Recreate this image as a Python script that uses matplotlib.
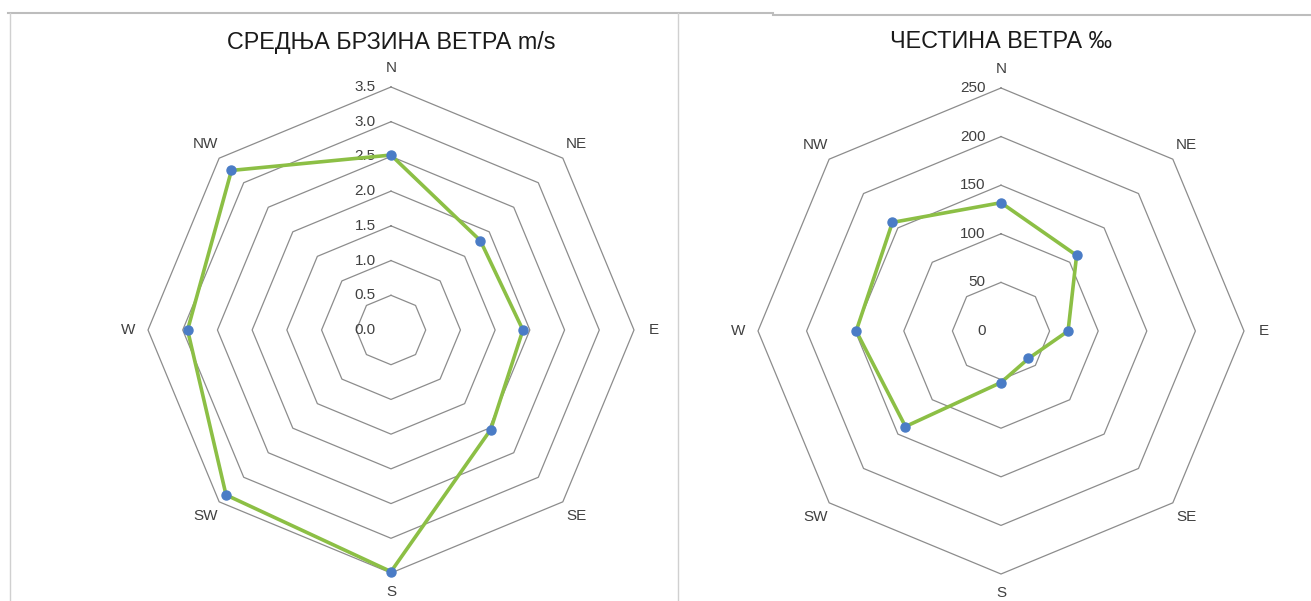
import numpy as np
import matplotlib.pyplot as plt
from matplotlib.lines import Line2D

plt.rcParams['font.family'] = ['Liberation Sans', 'DejaVu Sans']

# wind directions
directions = ['N', 'NE', 'E', 'SE', 'S', 'SW', 'W', 'NW']

# mean wind speed m/s
speed = [2.52, 1.82, 1.90, 2.03, 3.48, 3.36, 2.93, 3.25]
speed_ticks = [0.0, 0.5, 1.0, 1.5, 2.0, 2.5, 3.0, 3.5]
speed_labels = ['0.0', '0.5', '1.0', '1.5', '2.0', '2.5', '3.0', '3.5']

# wind frequency per mille
freq = [132, 110, 69, 40, 53, 139, 149, 158]
freq_ticks = [0, 50, 100, 150, 200, 250]
freq_labels = ['0', '50', '100', '150', '200', '250']

W, H = 1311, 601
fig = plt.figure(figsize=(W / 100, H / 100), dpi=100)

# panel borders like the excel sheet
grey = '#d0d0d0'
fig.add_artist(Line2D([8 / W, 773 / W], [1 - 13 / H, 1 - 13 / H], color='#bdbdbd', lw=1.5))
fig.add_artist(Line2D([773 / W, 1], [1 - 15 / H, 1 - 15 / H], color='#bdbdbd', lw=1.5))
fig.add_artist(Line2D([10 / W, 10 / W], [0, 1 - 13 / H], color=grey, lw=1))
fig.add_artist(Line2D([678 / W, 678 / W], [0, 1 - 13 / H], color=grey, lw=1))

angles = np.linspace(0, 2 * np.pi, len(directions), endpoint=False)
ang_closed = np.append(angles, angles[0])


def radar(cx, cy, title, values, ticks, labels):
    rad = 243
    ax = fig.add_axes([(cx - rad) / W, 1 - (cy + rad) / H, 2 * rad / W, 2 * rad / H],
                      projection='polar')
    ax.set_theta_zero_location('N')
    ax.set_theta_direction(-1)
    rmax = ticks[-1]
    ax.set_ylim(0, rmax)
    ax.grid(False)
    ax.spines['polar'].set_visible(False)
    ax.set_xticks([])
    ax.set_yticks([])
    ax.patch.set_alpha(0)

    # octagon rings
    for t in ticks[1:]:
        ax.plot(ang_closed, [t] * len(ang_closed), color='#8c8c8c', lw=0.9, zorder=1,
                clip_on=False)
    for t, lab in zip(ticks, labels):
        ax.annotate(lab, (0, t), xytext=(-11, 0), textcoords='offset points',
                    ha='right', va='center', fontsize=11, color='#404040')
    for a, d in zip(angles, directions):
        ax.text(a, rmax * 1.08, d, ha='center', va='center', fontsize=11,
                color='#404040', clip_on=False)

    vals = np.append(values, values[0])
    ax.plot(ang_closed, vals, color='#8cbf45', lw=2.6, zorder=3, clip_on=False)
    ax.plot(angles, values, 'o', color='#4a7cc6', ms=6.5, zorder=4, clip_on=False)

    fig.text(cx / W, 1 - 42 / H, title, ha='center', va='center', fontsize=16.8, color='#1a1a1a')


radar(391, 330, 'СРЕДЊА БРЗИНА ВЕТРА m/s', speed, speed_ticks, speed_labels)
radar(1001, 331, 'ЧЕСТИНА ВЕТРА ‰', freq, freq_ticks, freq_labels)

fig.savefig('out.png', dpi=100)
